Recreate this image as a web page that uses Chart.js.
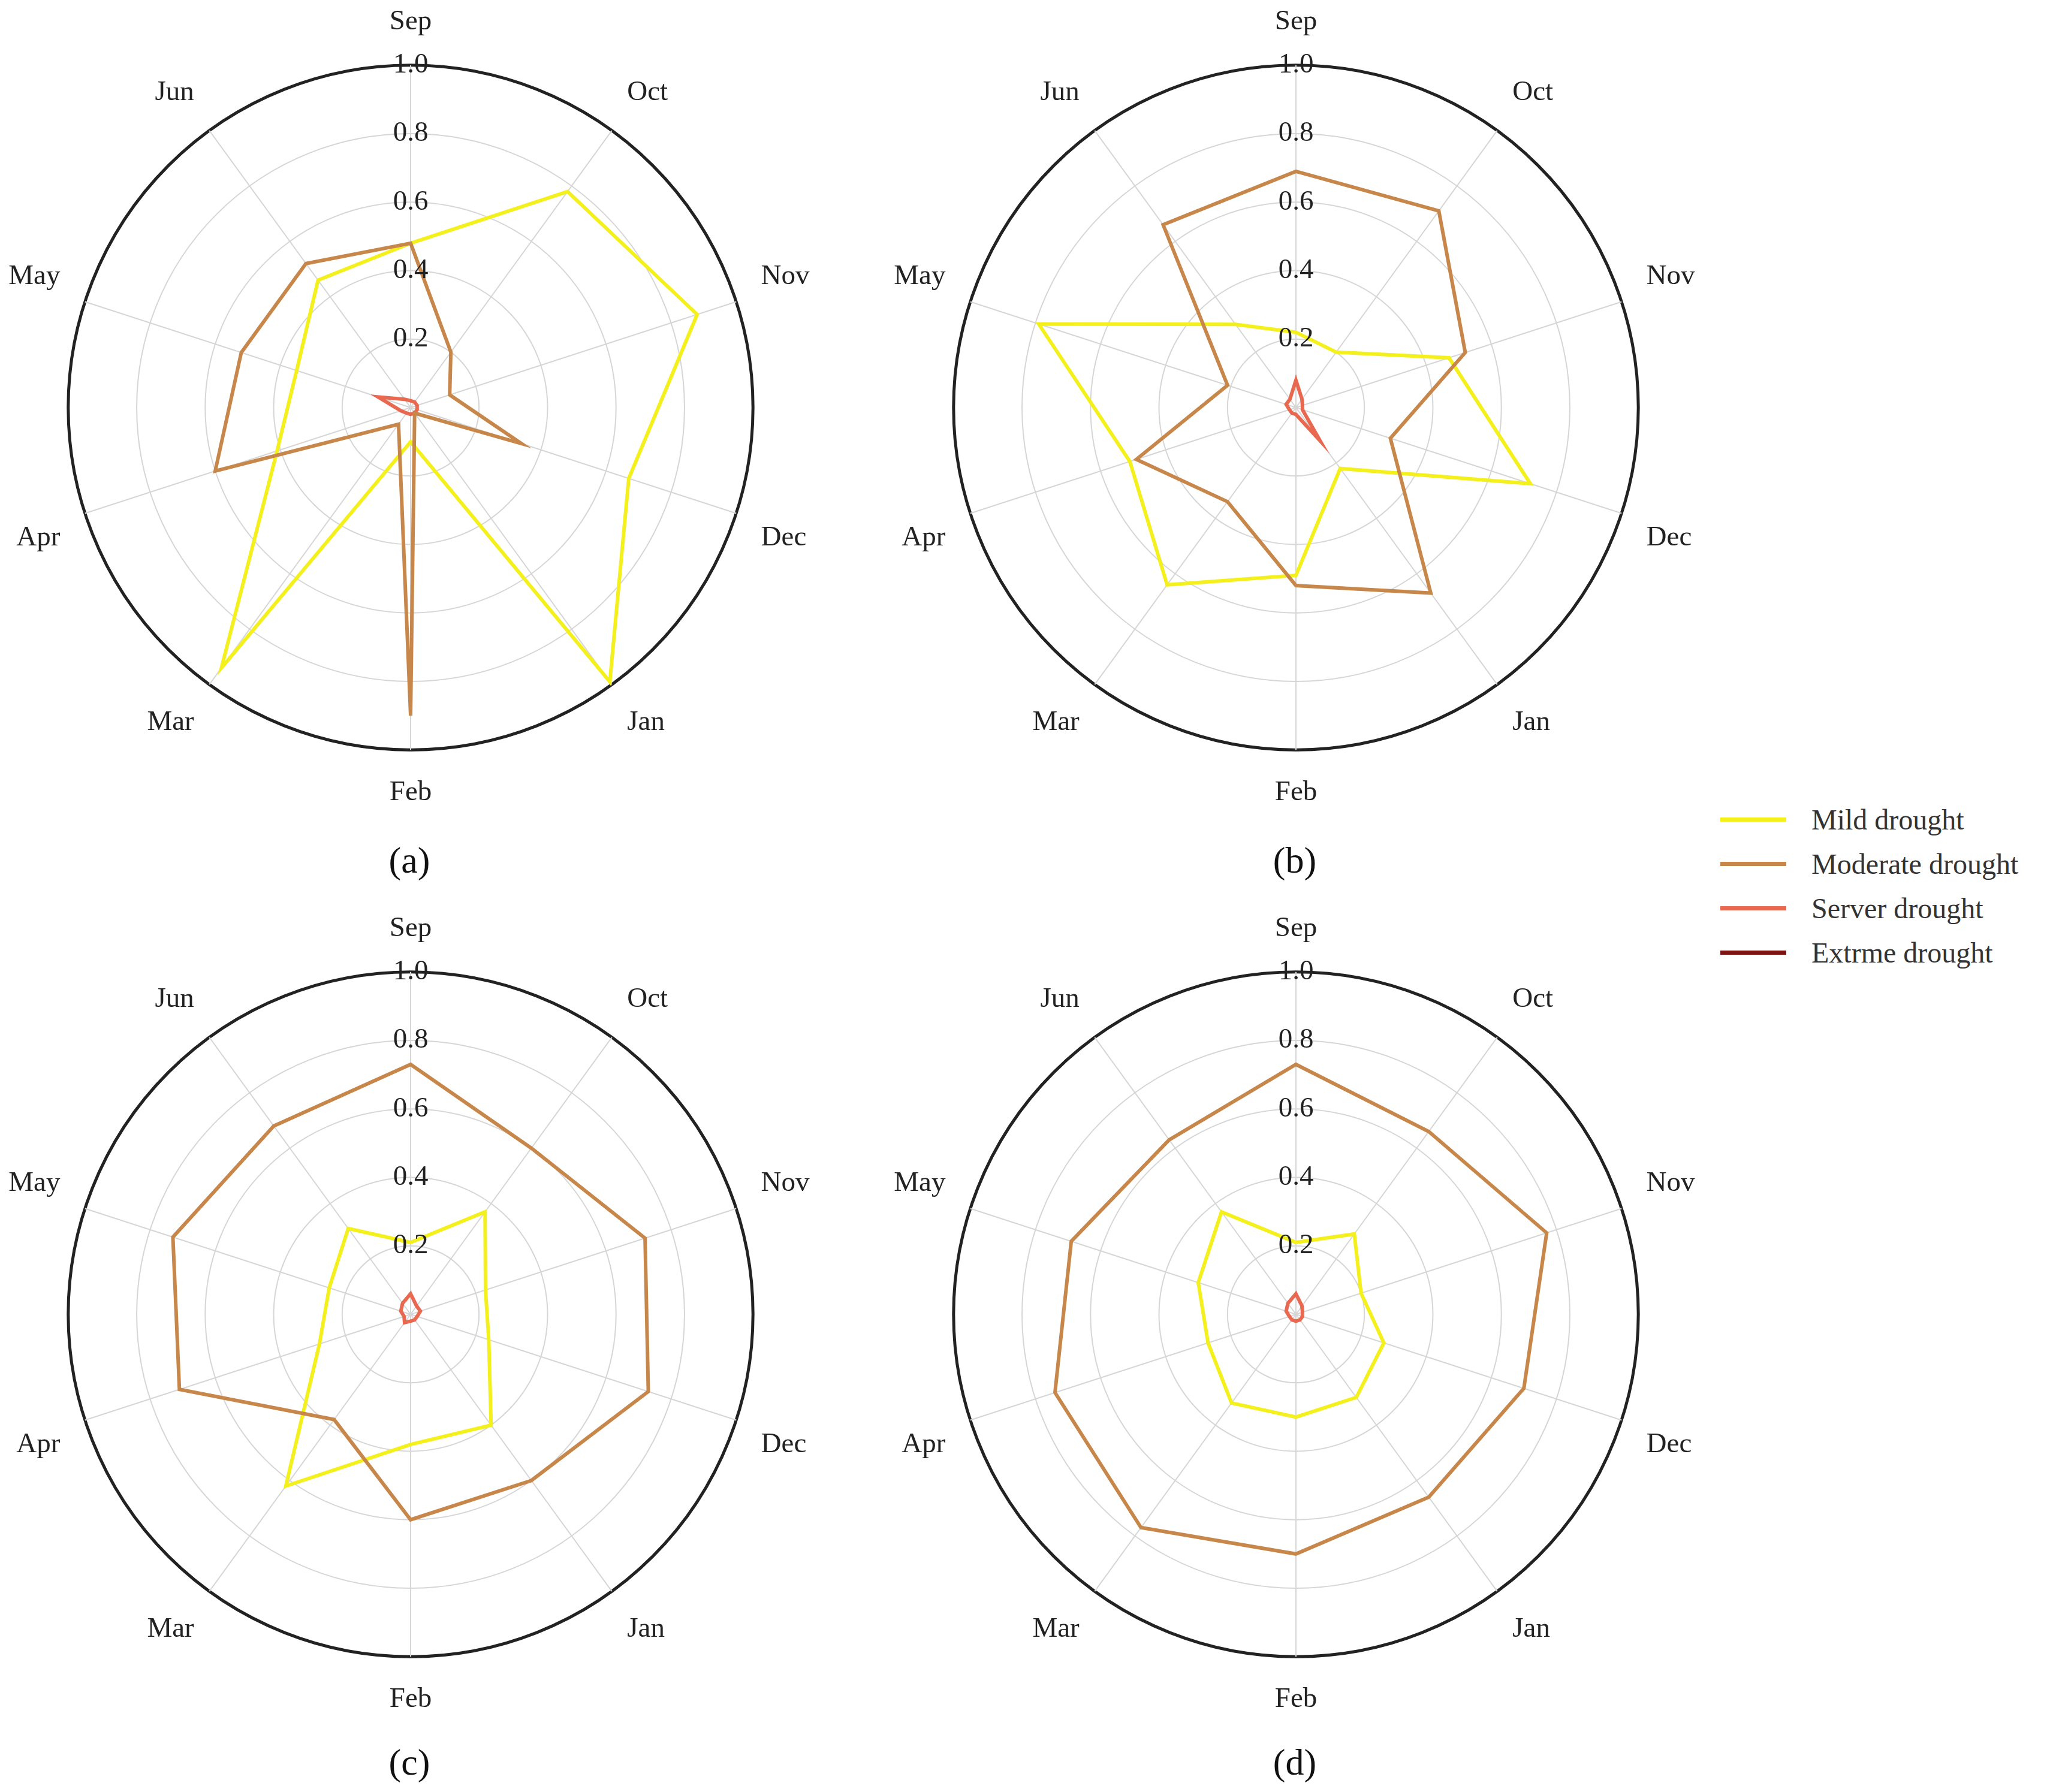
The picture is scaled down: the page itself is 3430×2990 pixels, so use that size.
<!DOCTYPE html>
<html>
<head>
<meta charset="utf-8">
<script src="https://cdn.jsdelivr.net/npm/chart.js@4/dist/chart.umd.min.js"></script>
<style>
body { margin: 0; background: #fff; width: 3430px; height: 2990px; position: relative; overflow: hidden; font-family: "Liberation Serif", serif; }
.wrap { position: absolute; width: 1400px; height: 1400px; }
.cap { position: absolute; font-size: 62px; color: #111; transform: translateX(-50%); }
#legend { position: absolute; left: 2870px; top: 1330px; font-size: 48px; color: #333; }
#legend div { height: 74px; display: flex; align-items: center; }
#legend span { display: inline-block; width: 110px; height: 7px; margin-right: 42px; }
</style>
</head>
<body>
<div class="wrap" style="left:-17px;top:-19px"><canvas id="ca"></canvas></div>
<div class="wrap" style="left:1460px;top:-19px"><canvas id="cb"></canvas></div>
<div class="wrap" style="left:-17px;top:1494px"><canvas id="cc"></canvas></div>
<div class="wrap" style="left:1460px;top:1494px"><canvas id="cd"></canvas></div>
<div class="cap" style="left:683px;top:1400px">(a)</div>
<div class="cap" style="left:2160px;top:1400px">(b)</div>
<div class="cap" style="left:683px;top:2905px">(c)</div>
<div class="cap" style="left:2160px;top:2905px">(d)</div>
<div id="legend"></div>
<script>
const kMonths = ["Sep", "Oct", "Nov", "Dec", "Jan", "Feb", "Mar", "Apr", "May", "Jun"];
const kSeries = [
	{label: "Mild drought", col: "#f4f01c"},
	{label: "Moderate drought", col: "#c8874a"},
	{label: "Server drought", col: "#e8694f"},
	{label: "Extrme drought", col: "#7a1414"}
];

// values per panel, order: mild, moderate, server, extreme
const mildA = [0.48, 0.78, 0.88, 0.67, 0.99, 0.10, 0.94, 0.41, 0.35, 0.46];
const moderateA = [0.48, 0.20, 0.12, 0.34, 0.02, 0.90, 0.06, 0.60, 0.52, 0.52];
const serverA = [0.02, 0.02, 0.02, 0.02, 0.02, 0.02, 0.02, 0.03, 0.10, 0.03];
const extremeA = [0, 0, 0, 0, 0, 0, 0, 0, 0, 0];

const mildB = [0.22, 0.20, 0.47, 0.72, 0.22, 0.49, 0.64, 0.51, 0.79, 0.30];
const moderateB = [0.69, 0.71, 0.52, 0.29, 0.67, 0.52, 0.34, 0.49, 0.21, 0.66];
const serverB = [0.08, 0.03, 0.02, 0.02, 0.12, 0.02, 0.02, 0.02, 0.03, 0.03];
const extremeB = [0, 0, 0, 0, 0, 0, 0, 0, 0, 0];

const mildC = [0.21, 0.37, 0.23, 0.24, 0.40, 0.38, 0.62, 0.28, 0.25, 0.31];
const moderateC = [0.73, 0.60, 0.72, 0.73, 0.60, 0.60, 0.38, 0.71, 0.73, 0.68];
const serverC = [0.06, 0.03, 0.03, 0.02, 0.02, 0.02, 0.03, 0.02, 0.03, 0.04];
const extremeC = [0, 0, 0, 0, 0, 0, 0, 0, 0, 0];

const mildD = [0.21, 0.29, 0.20, 0.27, 0.30, 0.30, 0.32, 0.27, 0.30, 0.37];
const moderateD = [0.73, 0.66, 0.77, 0.70, 0.66, 0.70, 0.77, 0.74, 0.69, 0.63];
const serverD = [0.06, 0.03, 0.02, 0.02, 0.02, 0.02, 0.02, 0.02, 0.03, 0.04];
const extremeD = [0, 0, 0, 0, 0, 0, 0, 0, 0, 0];

function renderRadar(id, values) {
	// draw moderate first so mild sits on top, like the figure
	const order = [1, 0, 2, 3];
	const datasets = order.map((i) => ({
		label: kSeries[i].label,
		data: values[i],
		borderColor: kSeries[i].col,
		backgroundColor: "transparent",
		borderWidth: 6,
		pointRadius: 0,
		fill: false
	}));

	return new Chart(document.getElementById(id).getContext("2d"), {
		type: "radar",
		data: {labels: kMonths, datasets},
		options: {
			responsive: false,
			animation: false,
			devicePixelRatio: 1,
			layout: {padding: 28},
			plugins: {legend: {display: false}, tooltip: {enabled: false}},
			scales: {
				r: {
					min: 0,
					max: 1,
					ticks: {
						stepSize: 0.2,
						showLabelBackdrop: false,
						color: "#222",
						font: {family: "Liberation Serif", size: 47},
						callback: (v) => v.toFixed(1),
						z: 1
					},
					grid: {
						circular: true,
						color: (ctx) => ctx.index === 5 ? "#222" : "#d6d6d6",
						lineWidth: (ctx) => ctx.index === 5 ? 5 : 2
					},
					angleLines: {color: "#d6d6d6", lineWidth: 2},
					pointLabels: {
						color: "#222",
						padding: 18,
						font: {family: "Liberation Serif", size: 47}
					}
				}
			}
		}
	});
}

for (const id of ["ca", "cb", "cc", "cd"]) {
	const c = document.getElementById(id);
	c.width = 1400;
	c.height = 1400;
}

renderRadar("ca", [mildA, moderateA, serverA, extremeA]);
renderRadar("cb", [mildB, moderateB, serverB, extremeB]);
renderRadar("cc", [mildC, moderateC, serverC, extremeC]);
renderRadar("cd", [mildD, moderateD, serverD, extremeD]);

const legend = document.getElementById("legend");
for (const s of kSeries) {
	const row = document.createElement("div");
	row.innerHTML = `<span style="background:${s.col}"></span>${s.label}`;
	legend.appendChild(row);
}
</script>
</body>
</html>
